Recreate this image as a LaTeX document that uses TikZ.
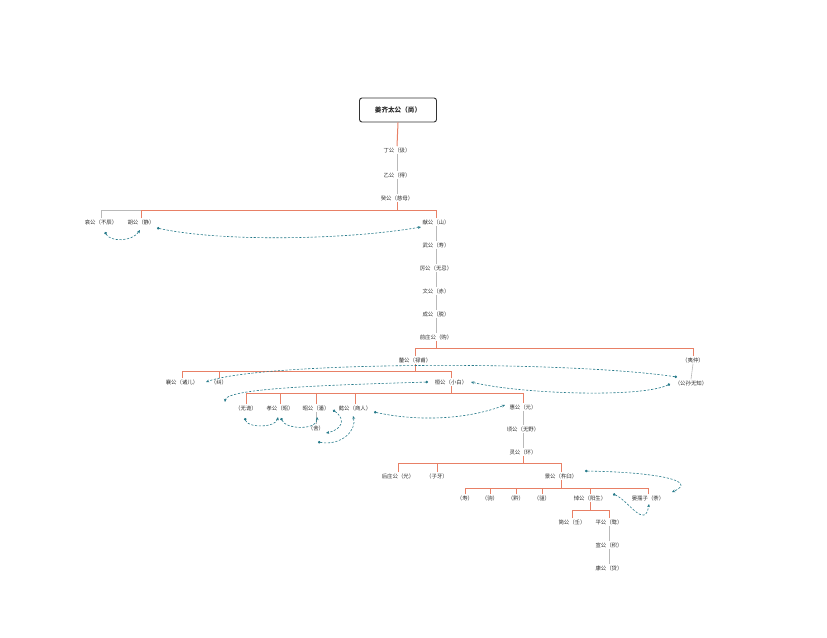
\documentclass[tikz,border=0pt]{standalone}
\usepackage{fontspec}
\setmainfont{Noto Sans CJK SC}
\usetikzlibrary{arrows.meta}
\definecolor{barc}{RGB}{232,128,102}
\definecolor{chainc}{RGB}{185,185,185}
\definecolor{relc}{RGB}{38,122,138}
\definecolor{txtc}{RGB}{45,45,45}
\begin{document}
\begin{tikzpicture}[x=1pt,y=-1pt,
  nm/.style={font=\fontsize{5.4}{6}\selectfont, text=txtc, inner sep=1pt},
  ttl/.style={draw=black!80, line width=0.9pt, rounded corners=2.5pt, minimum width=77pt, minimum height=24pt, inner sep=2pt, font=\fontsize{6.6}{8}\selectfont\bfseries, text=txtc},
  chn/.style={draw=chainc, line width=0.6pt},
  br/.style={draw=barc, line width=0.7pt},
  rl/.style={draw=relc, line width=0.6pt, dash pattern=on 2.2pt off 1.6pt, {Circle[length=2.6pt]}-{Stealth[length=3.2pt,width=2.8pt]}},
]
\useasboundingbox[fill=white] (0,0) rectangle (827,637);

% nodes
\node[ttl] (t) at (398,110) {姜齐太公（尚）};
\node[nm] (dg) at (397,150) {丁公（伋）};
\node[nm] (yg) at (397,175) {乙公（得）};
\node[nm] (gg) at (397,198) {癸公（慈母）};
\node[nm] (ag) at (101,222) {哀公（不辰）};
\node[nm] (hg) at (141,222) {胡公（静）};
\node[nm] (xg) at (436,222) {献公（山）};
\node[nm] (wg) at (436,245) {武公（寿）};
\node[nm] (lg) at (436,268) {厉公（无忌）};
\node[nm] (wen) at (436,291) {文公（赤）};
\node[nm] (cg) at (436,314) {成公（脱）};
\node[nm] (qz) at (436,337) {前庄公（购）};
\node[nm] (xi) at (415,360) {釐公（禄甫）};
\node[nm] (yz) at (693,360) {（夷仲）};
\node[nm] (gs) at (691,383) {（公孙无知）};
\node[nm] (xa) at (182,382) {襄公（诸儿）};
\node[nm] (jiu) at (219,382) {（纠）};
\node[nm] (hu) at (451,382) {桓公（小白）};
\node[nm] (wgui) at (246,408) {（无诡）};
\node[nm] (xiao) at (280,408) {孝公（昭）};
\node[nm] (zhao) at (316,408) {昭公（潘）};
\node[nm] (yi) at (355,408) {懿公（商人）};
\node[nm] (hui) at (523,407) {惠公（元）};
\node[nm] (she) at (316,428) {（舍）};
\node[nm] (qing) at (523,429) {顷公（无野）};
\node[nm] (ling) at (523,452) {灵公（环）};
\node[nm] (hz) at (398,476) {后庄公（光）};
\node[nm] (zy) at (437,476) {（子牙）};
\node[nm] (jg) at (561,476) {景公（杵臼）};
\node[nm] (shou) at (465,498) {（寿）};
\node[nm] (ju) at (490,498) {（驹）};
\node[nm] (qian) at (516,498) {（黔）};
\node[nm] (zang) at (542,498) {（驵）};
\node[nm] (dao) at (590,498) {悼公（阳生）};
\node[nm] (yan) at (648,498) {晏孺子（荼）};
\node[nm] (jian) at (572,522) {简公（壬）};
\node[nm] (ping) at (609,522) {平公（骜）};
\node[nm] (xuan) at (609,545) {宣公（积）};
\node[nm] (kang) at (609,568) {康公（贷）};

% bar levels
\coordinate (b1) at (0,210);
\coordinate (b2) at (0,348);
\coordinate (b3) at (0,371);
\coordinate (b4) at (0,393);
\coordinate (b5) at (0,463);
\coordinate (b6) at (0,488);
\coordinate (b7) at (0,510);

% title link and chains
\draw[barc, line width=1pt] (t.south) -- (dg.north);
\draw[chn] (dg.south) -- (yg.north);
\draw[chn] (yg.south) -- (gg.north);
\draw[chn] (xg.south) -- (wg.north);
\draw[chn] (wg.south) -- (lg.north);
\draw[chn] (lg.south) -- (wen.north);
\draw[chn] (wen.south) -- (cg.north);
\draw[chn] (cg.south) -- (qz.north);
\draw[chn] (yz.south) -- (gs.north);
\draw[chn] (zhao.south) -- (she.north);
\draw[chn] (hui.south) -- (qing.north);
\draw[chn] (qing.south) -- (ling.north);
\draw[chn] (ping.south) -- (xuan.north);
\draw[chn] (xuan.south) -- (kang.north);

% bar 1
\draw[br] (gg.south) -- (gg.south |- b1);
\draw[chn] (ag.north) -- (ag.north |- b1) -- (hg.north |- b1);
\draw[br] (hg.north |- b1) -- (xg.north |- b1);
\foreach \c in {hg,xg} \draw[br] (\c.north) -- (\c.north |- b1);
% bar 2
\draw[br] (qz.south) -- (qz.south |- b2);
\draw[br] (xi.north |- b2) -- (yz.north |- b2);
\foreach \c in {xi,yz} \draw[br] (\c.north) -- (\c.north |- b2);
% bar 3
\draw[br] (xi.south) -- (xi.south |- b3);
\draw[br] (xa.north |- b3) -- (hu.north |- b3);
\foreach \c in {xa,jiu,hu} \draw[br] (\c.north) -- (\c.north |- b3);
% bar 4
\draw[br] (hu.south) -- (hu.south |- b4);
\draw[br] (wgui.north |- b4) -- (hui.north |- b4);
\foreach \c in {wgui,xiao,zhao,yi,hui} \draw[br] (\c.north) -- (\c.north |- b4);
% bar 5
\draw[br] (ling.south) -- (ling.south |- b5);
\draw[br] (hz.north |- b5) -- (jg.north |- b5);
\foreach \c in {hz,zy,jg} \draw[br] (\c.north) -- (\c.north |- b5);
% bar 6
\draw[br] (jg.south) -- (jg.south |- b6);
\draw[br] (shou.north |- b6) -- (yan.north |- b6);
\foreach \c in {shou,ju,qian,zang,dao,yan} \draw[br] (\c.north) -- (\c.north |- b6);
% bar 7
\draw[br] (dao.south) -- (dao.south |- b7);
\draw[br] (jian.north |- b7) -- (ping.north |- b7);
\foreach \c in {jian,ping} \draw[br] (\c.north) -- (\c.north |- b7);

% relationships
\draw[rl] ([shift={(4,10)}]ag.center) .. controls ([shift={(9,20)}]ag.center) and ([shift={(-9,20)}]hg.center) .. ([shift={(-1,8)}]hg.center);
\draw[rl] ([shift={(16,6)}]hg.center) .. controls ([shift={(80,20)}]hg.center) and ([shift={(-90,18)}]xg.center) .. ([shift={(-15,5)}]xg.center);
\draw[rl] ([shift={(-14,-6)}]gs.center) .. controls ([shift={(-130,-23)}]gs.center) and ([shift={(78,-20)}]xa.center) .. ([shift={(24,0)}]xa.center);
\draw[rl] ([shift={(-21,1)}]gs.center) .. controls ([shift={(-50,15)}]gs.center) and ([shift={(70,12)}]hu.center) .. ([shift={(20,0)}]hu.center);
\draw[rl] ([shift={(-23,0)}]hu.center) .. controls ([shift={(-120,3)}]hu.center) and ([shift={(-20,-20)}]wgui.center) .. ([shift={(-21,-6)}]wgui.center);
\draw[rl] ([shift={(19,4)}]yi.center) .. controls ([shift={(65,14)}]yi.center) and ([shift={(-55,12)}]hui.center) .. ([shift={(-18,-2)}]hui.center);
\draw[rl] ([shift={(-1,10)}]wgui.center) .. controls ([shift={(1,20)}]wgui.center) and ([shift={(-4,20)}]xiao.center) .. ([shift={(-2,9)}]xiao.center);
\draw[rl] ([shift={(1,10)}]xiao.center) .. controls ([shift={(6,22)}]xiao.center) and ([shift={(2,22)}]zhao.center) .. ([shift={(1,9)}]zhao.center);
\draw[rl] ([shift={(-22,2)}]yi.center) .. controls ([shift={(-8,12)}]yi.center) and ([shift={(-14,22)}]yi.center) .. ([shift={(10,5)}]she.center);
\draw[rl] ([shift={(2,14)}]she.center) .. controls ([shift={(26,18)}]she.center) and ([shift={(2,22)}]yi.center) .. ([shift={(-2,8)}]yi.center);
\draw[rl] ([shift={(24,-5)}]jg.center) .. controls ([shift={(90,-4)}]jg.center) and ([shift={(52,-18)}]yan.center) .. ([shift={(24,-6)}]yan.center);
\draw[rl] ([shift={(23,-4)}]dao.center) .. controls ([shift={(38,2)}]dao.center) and ([shift={(-3,32)}]yan.center) .. ([shift={(1,6)}]yan.center);
\end{tikzpicture}
\end{document}
